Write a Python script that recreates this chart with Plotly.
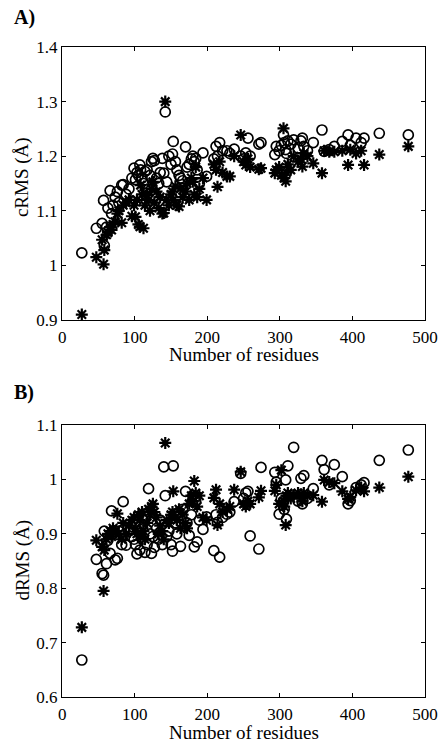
import plotly.graph_objects as go
from plotly.subplots import make_subplots

# protein sizes (number of residues), shared by every series
residues = [27, 47, 55, 57, 58, 61, 63, 66, 68, 70, 73, 76, 78, 82, 84, 88, 92, 96, 99, 101,
            103, 105, 107, 108, 110, 112, 114, 117, 119, 121, 123, 125, 127, 130, 133, 135, 138, 140, 142, 144,
            147, 150, 152, 153, 156, 158, 161, 163, 166, 170, 172, 175, 178, 180, 182, 184, 186, 189, 194, 199,
            209, 212, 214, 217, 221, 227, 231, 237, 246, 250, 253, 256, 259, 271, 274, 293, 295, 299, 302, 305,
            306, 308, 309, 311, 315, 319, 325, 329, 331, 333, 338, 346, 358, 361, 368, 375, 386, 394, 397, 405,
            412, 416, 437, 477]

# A) cRMS, circles
crms_circle = [1.023, 1.068, 1.077, 1.119, 1.036, 1.070, 1.105, 1.137, 1.095, 1.110, 1.125, 1.135, 1.115, 1.147, 1.148, 1.130, 1.140, 1.160, 1.178, 1.157,
               1.170, 1.165, 1.184, 1.175, 1.160, 1.150, 1.172, 1.175, 1.140, 1.165, 1.190, 1.196, 1.192, 1.160, 1.150, 1.170, 1.196, 1.169, 1.281, 1.153,
               1.200, 1.185, 1.204, 1.227, 1.190, 1.175, 1.165, 1.160, 1.155, 1.217, 1.180, 1.185, 1.195, 1.200, 1.190, 1.196, 1.175, 1.150, 1.206, 1.163,
               1.195, 1.218, 1.200, 1.225, 1.210, 1.210, 1.205, 1.213, 1.200, 1.195, 1.206, 1.233, 1.200, 1.222, 1.225, 1.203, 1.218, 1.210, 1.220, 1.239,
               1.225, 1.212, 1.205, 1.228, 1.222, 1.230, 1.215, 1.228, 1.233, 1.218, 1.210, 1.225, 1.248, 1.209, 1.212, 1.218, 1.227, 1.239, 1.220, 1.233,
               1.225, 1.233, 1.242, 1.239]

# A) cRMS, asterisks
crms_star = [0.910, 1.015, 1.047, 1.002, 1.028, 1.056, 1.060, 1.070, 1.065, 1.075, 1.080, 1.095, 1.100, 1.078, 1.110, 1.115, 1.120, 1.090, 1.110, 1.089,
             1.120, 1.075, 1.071, 1.147, 1.130, 1.068, 1.110, 1.129, 1.120, 1.100, 1.140, 1.153, 1.115, 1.135, 1.105, 1.125, 1.095, 1.096, 1.300, 1.120,
             1.110, 1.130, 1.135, 1.120, 1.145, 1.110, 1.108, 1.141, 1.125, 1.135, 1.150, 1.120, 1.160, 1.153, 1.130, 1.180, 1.125, 1.140, 1.160, 1.120,
             1.185, 1.175, 1.144, 1.190, 1.170, 1.163, 1.163, 1.200, 1.239, 1.190, 1.184, 1.195, 1.180, 1.176, 1.178, 1.169, 1.175, 1.180, 1.165, 1.251,
             1.160, 1.154, 1.170, 1.185, 1.175, 1.200, 1.190, 1.195, 1.181, 1.205, 1.200, 1.187, 1.169, 1.210, 1.208, 1.208, 1.210, 1.184, 1.212, 1.205,
             1.210, 1.184, 1.203, 1.218]

# B) dRMS, circles
drms_circle = [0.668, 0.853, 0.827, 0.824, 0.905, 0.845, 0.888, 0.864, 0.942, 0.900, 0.852, 0.855, 0.905, 0.880, 0.959, 0.879, 0.905, 0.895, 0.890, 0.880,
               0.863, 0.905, 0.870, 0.915, 0.890, 0.925, 0.866, 0.880, 0.983, 0.900, 0.864, 0.895, 0.875, 0.910, 0.890, 0.925, 0.880, 1.023, 0.970, 0.895,
               0.905, 0.880, 0.868, 1.025, 0.920, 0.900, 0.940, 0.877, 0.945, 0.978, 0.920, 0.897, 0.935, 0.970, 0.876, 0.960, 0.885, 0.925, 0.908, 0.931,
               0.869, 0.935, 0.921, 0.857, 0.930, 0.936, 0.940, 0.959, 1.011, 0.965, 0.975, 0.978, 0.896, 0.872, 1.022, 1.013, 0.995, 0.936, 0.965, 0.959,
               0.945, 0.999, 0.927, 1.025, 0.970, 1.059, 0.960, 1.002, 0.955, 1.007, 0.965, 0.983, 1.035, 1.018, 0.990, 1.027, 1.005, 0.955, 0.961, 0.985,
               0.990, 0.994, 1.035, 1.054]

# B) dRMS, asterisks
drms_star = [0.728, 0.888, 0.876, 0.795, 0.870, 0.890, 0.900, 0.905, 0.895, 0.910, 0.905, 0.937, 0.900, 0.890, 0.920, 0.900, 0.915, 0.925, 0.930, 0.910,
             0.900, 0.935, 0.925, 0.895, 0.940, 0.905, 0.890, 0.920, 0.945, 0.935, 0.950, 0.955, 0.940, 0.930, 0.900, 0.915, 0.905, 0.890, 1.067, 0.925,
             0.920, 0.935, 0.940, 0.978, 0.930, 0.925, 0.945, 0.910, 0.935, 0.920, 0.910, 0.955, 0.970, 0.960, 0.997, 0.975, 0.950, 0.970, 0.930, 0.925,
             0.966, 0.981, 0.916, 0.955, 0.940, 0.945, 0.950, 0.981, 1.014, 0.955, 0.950, 0.960, 0.955, 0.967, 0.979, 0.979, 0.990, 0.955, 1.017, 0.960,
             0.950, 0.916, 0.970, 0.975, 0.965, 0.971, 0.975, 0.965, 0.960, 0.975, 0.970, 0.971, 0.959, 0.999, 0.995, 0.993, 0.978, 0.964, 0.968, 0.980,
             0.985, 0.978, 0.985, 1.005]

x_ticks = [0, 100, 200, 300, 400, 500]
x_labels = ["0", "100", "200", "300", "400", "500"]
crms_ticks = [0.9, 1.0, 1.1, 1.2, 1.3, 1.4]
crms_labels = ["0.9", "1", "1.1", "1.2", "1.3", "1.4"]
drms_ticks = [0.6, 0.7, 0.8, 0.9, 1.0, 1.1]
drms_labels = ["0.6", "0.7", "0.8", "0.9", "1", "1.1"]

FONT = "Liberation Serif"

fig = make_subplots(rows=2, cols=1)

circle = dict(symbol="circle-open", size=10, color="black", line=dict(width=1.7, color="black"))
star = dict(symbol="asterisk-open", size=10, color="black", line=dict(width=2.2, color="black"))

fig.add_trace(go.Scatter(x=residues, y=crms_star, mode="markers", marker=star), row=1, col=1)
fig.add_trace(go.Scatter(x=residues, y=crms_circle, mode="markers", marker=circle), row=1, col=1)
fig.add_trace(go.Scatter(x=residues, y=drms_star, mode="markers", marker=star), row=2, col=1)
fig.add_trace(go.Scatter(x=residues, y=drms_circle, mode="markers", marker=circle), row=2, col=1)

axis_style = dict(showgrid=False, zeroline=False, showline=True, linecolor="black", linewidth=1,
                  mirror="ticks", ticks="inside", ticklen=4, tickcolor="black", automargin=False,
                  ticklabeloverflow="allow", tickfont=dict(family=FONT, size=17, color="black"))

# x labels pushed down a touch so "0" clears the y-axis labels at the corner
fig.update_xaxes(range=[-0.3, 500], tickvals=x_ticks, ticktext=x_labels, domain=[0, 1],
                 ticklabelstandoff=2, **axis_style)
fig.update_yaxes(**axis_style)
fig.update_yaxes(range=[0.9, 1.4], tickvals=crms_ticks, ticktext=crms_labels, domain=[0.58, 1.0], row=1, col=1)
fig.update_yaxes(range=[0.6, 1.1], tickvals=drms_ticks, ticktext=drms_labels, domain=[0.0, 0.4185], row=2, col=1)

txt = dict(family=FONT, size=19, color="black")
bold = dict(family=FONT, size=20, color="black")
annotations = [
    dict(text="<b>A)</b>", x=-0.138, y=1.045, xanchor="left", yanchor="middle", font=bold),
    dict(text="<b>B)</b>", x=-0.138, y=0.469, xanchor="left", yanchor="middle", font=bold),
    dict(text="Number of residues", x=0.5, y=0.527, xanchor="center", yanchor="middle", font=txt),
    dict(text="Number of residues", x=0.5, y=-0.055, xanchor="center", yanchor="middle", font=txt),
    dict(text="cRMS (Å)", x=-0.11, y=0.80, xanchor="center", yanchor="middle", textangle=-90, font=txt),
    dict(text="dRMS (Å)", x=-0.11, y=0.21, xanchor="center", yanchor="middle", textangle=-90, font=txt),
]
for a in annotations:
    fig.add_annotation(xref="paper", yref="paper", showarrow=False, **a)

fig.update_layout(
    width=441, height=742,
    margin=dict(l=62, r=16, t=47, b=45),
    paper_bgcolor="white", plot_bgcolor="white",
    showlegend=False,
)

# drop the default 8px body margin so the figure fills the window exactly
fig.write_html("out.html", config={"displayModeBar": False},
               post_script="document.body.style.margin='0';")
